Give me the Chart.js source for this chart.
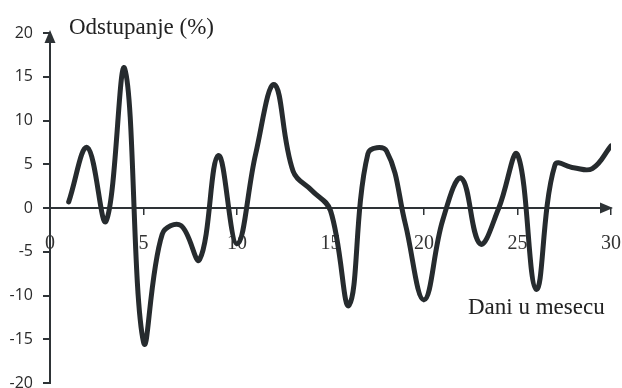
<!DOCTYPE html>
<html>
<head>
<meta charset="utf-8">
<script src="https://cdn.jsdelivr.net/npm/chart.js@4"></script>
<style>
  html, body { margin: 0; padding: 0; background: #fff; }
  #chart { display: block; }
</style>
</head>
<body>
<canvas id="chart" width="622" height="388"></canvas>
<script>
// daily deviation
const days = [1, 2, 3, 4, 5, 6, 7, 8, 9, 10, 11, 12, 13, 14, 15, 16, 17, 18, 19, 20, 21, 22, 23, 24, 25, 26, 27, 28, 29, 30];
const deviation = [0.7, 6.9, -1.5, 15.9, -15.3, -3.0, -2.0, -5.9, 6.0, -4.1, 6.2, 14.1, 4.2, 2.0, -0.3, -11.1, 6.2, 6.5, -1.8, -10.5, -1.4, 3.4, -4.1, 0, 6.1, -9.3, 4.9, 4.6, 4.5, 7.1];
const xTicks = [0, 5, 10, 15, 20, 25, 30];
const yTicks = [-20, -15, -10, -5, 0, 5, 10, 15, 20];
const yTitle = 'Odstupanje (%)';
const xTitle = 'Dani u mesecu';

const ink = '#262b2e';
const axisColor = '#2e3336';

// scales should not push the plot area around, layout padding decides it
const noPadding = s => {
  s.paddingLeft = 0; s.paddingRight = 0; s.paddingTop = 0; s.paddingBottom = 0;
};

// arrows + axis captions
const decorations = {
  id: 'decorations',
  afterDraw(chart) {
    const ctx = chart.ctx;
    const xs = chart.scales.x, ys = chart.scales.y;
    const x0 = xs.getPixelForValue(0);
    const y0 = ys.getPixelForValue(0);
    const top = ys.getPixelForValue(20);
    const right = xs.getPixelForValue(30);
    ctx.save();
    ctx.fillStyle = axisColor;
    // y arrow
    ctx.beginPath();
    ctx.moveTo(x0, top - 3);
    ctx.lineTo(x0 - 5.5, top + 10);
    ctx.lineTo(x0 + 5.5, top + 10);
    ctx.closePath();
    ctx.fill();
    // x arrow
    ctx.beginPath();
    ctx.moveTo(right + 2, y0);
    ctx.lineTo(right - 11, y0 - 5.5);
    ctx.lineTo(right - 11, y0 + 5.5);
    ctx.closePath();
    ctx.fill();

    ctx.fillStyle = '#222';
    ctx.textBaseline = 'alphabetic';
    ctx.textAlign = 'left';
    ctx.font = '23px "Liberation Serif", "Times New Roman", serif';
    ctx.fillText(yTitle, 69, 34);
    ctx.fillText(xTitle, 468, 314);
    ctx.restore();
  }
};

new Chart(document.getElementById('chart'), {
  type: 'line',
  data: {
    datasets: [{
      data: days.map((d, i) => ({ x: d, y: deviation[i] })),
      borderColor: ink,
      borderWidth: 5,
      borderCapStyle: 'round',
      borderJoinStyle: 'round',
      pointRadius: 0,
      tension: 0.4,
      fill: false
    }]
  },
  options: {
    responsive: false,
    animation: false,
    events: [],
    layout: { padding: { top: 33, right: 11, bottom: 5, left: 0 } },
    plugins: { legend: { display: false }, tooltip: { enabled: false } },
    scales: {
      x: {
        type: 'linear',
        position: { y: 0 },
        min: 0,
        max: 30,
        afterBuildTicks: s => { s.ticks = xTicks.map(v => ({ value: v })); },
        afterFit: noPadding,
        grid: { drawOnChartArea: false, drawTicks: true, tickLength: 6, color: axisColor, lineWidth: 1.5 },
        border: { display: true, color: axisColor, width: 2 },
        ticks: {
          color: '#333',
          padding: 18,
          maxRotation: 0,
          autoSkip: false,
          font: { family: '"Liberation Serif", "Times New Roman", serif', size: 20 }
        }
      },
      y: {
        type: 'linear',
        min: -20,
        max: 20,
        afterBuildTicks: s => { s.ticks = yTicks.map(v => ({ value: v })); },
        afterFit: s => { s.width = 50; noPadding(s); },
        grid: { drawOnChartArea: false, drawTicks: true, tickLength: 7, color: axisColor, lineWidth: 2 },
        border: { display: true, color: axisColor, width: 2 },
        ticks: {
          color: '#2a2a2a',
          padding: 10,
          font: { family: '"Open Sans", sans-serif', size: 16 }
        }
      }
    }
  },
  plugins: [decorations]
});
</script>
</body>
</html>
